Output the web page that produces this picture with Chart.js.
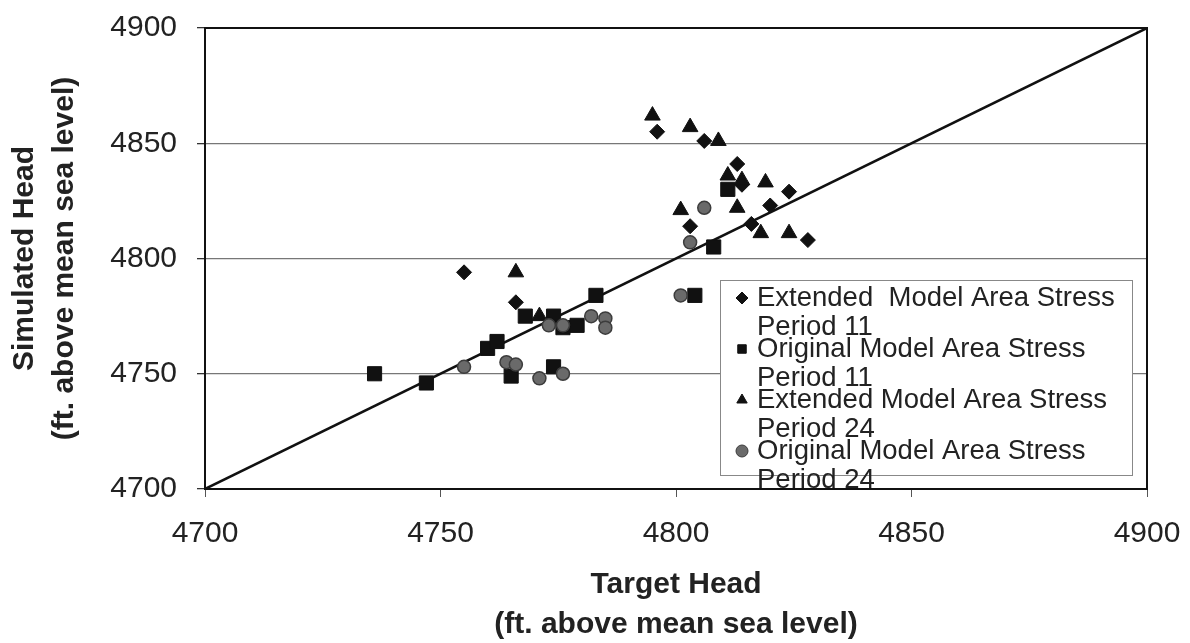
<!DOCTYPE html>
<html lang="en">
<head>
    <meta charset="UTF-8">
    <title>Simulated vs Target Head</title>
    <script src="https://cdn.jsdelivr.net/npm/chart.js"></script>
    <style>
        body { margin: 0; background: #fff; }
        canvas { display: block; }
    </style>
</head>
<body>
    <canvas id="headChart" width="1190" height="643"></canvas>

    <script>
        // axis range and ticks
        const axisMin = 4700;
        const axisMax = 4900;
        const tickStep = 50;

        // series labels (legend text is wrapped onto two lines)
        const seriesLabels = [
            ['Extended  Model Area Stress', 'Period 11'],
            ['Original Model Area Stress', 'Period 11'],
            ['Extended Model Area Stress', 'Period 24'],
            ['Original Model Area Stress', 'Period 24']
        ];

        // target head (x) and simulated head (y)
        const ext11X = [4755, 4766, 4796, 4806, 4813, 4814, 4824, 4820, 4816, 4803, 4828];
        const ext11Y = [4794, 4781, 4855, 4851, 4841, 4832, 4829, 4823, 4815, 4814, 4808];

        const orig11X = [4736, 4747, 4760, 4762, 4768, 4765, 4774, 4776, 4779, 4774, 4783, 4811, 4808, 4804];
        const orig11Y = [4750, 4746, 4761, 4764, 4775, 4749, 4753, 4770, 4771, 4775, 4784, 4830, 4805, 4784];

        const ext24X = [4766, 4771, 4795, 4803, 4809, 4811, 4814, 4819, 4813, 4801, 4818, 4824];
        const ext24Y = [4794, 4775, 4862, 4857, 4851, 4836, 4834, 4833, 4822, 4821, 4811, 4811];

        const orig24X = [4755, 4764, 4766, 4771, 4776, 4773, 4776, 4782, 4785, 4785, 4801, 4806, 4803];
        const orig24Y = [4753, 4755, 4754, 4748, 4750, 4771, 4771, 4775, 4774, 4770, 4784, 4822, 4807];

        const toPoints = (xs, ys) => xs.map((x, i) => ({ x: x, y: ys[i] }));

        const tickFont = { family: 'Liberation Sans, Arial, sans-serif', size: 30 };
        const titleFont = { family: 'Liberation Sans, Arial, sans-serif', size: 30, weight: 'bold', lineHeight: 1.33 };
        const plainTick = (v) => String(v);

        // frame round the plot area + the boxed legend inside it
        const framePlugin = {
            id: 'frame',
            afterDatasetsDraw(chart) {
                const { ctx, chartArea } = chart;
                ctx.save();
                ctx.strokeStyle = '#111';
                ctx.lineWidth = 2;
                ctx.strokeRect(chartArea.left, chartArea.top,
                    chartArea.right - chartArea.left, chartArea.bottom - chartArea.top);
                ctx.restore();
            },
            afterDraw(chart) {
                const { ctx, chartArea } = chart;
                const boxLeft = chartArea.left + 515;
                const boxTop = chartArea.top + 252;
                const boxWidth = 412;
                const boxHeight = 195;
                ctx.save();
                ctx.fillStyle = '#fff';
                ctx.fillRect(boxLeft, boxTop, boxWidth, boxHeight);
                ctx.strokeStyle = '#888';
                ctx.lineWidth = 1;
                ctx.strokeRect(boxLeft + 0.5, boxTop + 0.5, boxWidth, boxHeight);

                ctx.font = '27.5px Liberation Sans, Arial, sans-serif';
                ctx.textBaseline = 'middle';
                ctx.textAlign = 'left';
                const pitch = 51;
                const lineGap = 29;
                for (let i = 0; i < 4; i++) {
                    const ds = chart.data.datasets[i];
                    const y = boxTop + 18 + i * pitch;
                    ctx.fillStyle = ds.backgroundColor;
                    ctx.strokeStyle = ds.borderColor;
                    ctx.lineWidth = 1;
                    Chart.helpers.drawPoint(ctx, { pointStyle: ds.pointStyle, radius: 6, rotation: 0, borderWidth: 1 }, boxLeft + 22, y);
                    ctx.fillStyle = '#222';
                    ctx.fillText(seriesLabels[i][0], boxLeft + 37, y);
                    ctx.fillText(seriesLabels[i][1], boxLeft + 37, y + lineGap);
                }
                ctx.restore();
            }
        };

        // let the layout padding alone decide where the plot area sits
        const noLabelPadding = (scale) => {
            scale.paddingLeft = 0;
            scale.paddingRight = 0;
            scale.paddingTop = 0;
            scale.paddingBottom = 0;
        };

        new Chart(document.getElementById('headChart'), {
            type: 'scatter',
            data: {
                datasets: [
                    {
                        label: seriesLabels[0].join(' '),
                        data: toPoints(ext11X, ext11Y),
                        pointStyle: 'rectRot',
                        pointRadius: 7.5,
                        backgroundColor: '#111',
                        borderColor: '#111',
                        order: 5
                    },
                    {
                        label: seriesLabels[1].join(' '),
                        data: toPoints(orig11X, orig11Y),
                        pointStyle: 'rect',
                        pointRadius: 10,
                        backgroundColor: '#111',
                        borderColor: '#111',
                        order: 4
                    },
                    {
                        label: seriesLabels[2].join(' '),
                        data: toPoints(ext24X, ext24Y),
                        pointStyle: 'triangle',
                        pointRadius: 9,
                        backgroundColor: '#111',
                        borderColor: '#111',
                        order: 3
                    },
                    {
                        label: seriesLabels[3].join(' '),
                        data: toPoints(orig24X, orig24Y),
                        pointStyle: 'circle',
                        pointRadius: 6.5,
                        backgroundColor: '#6a6a6a',
                        borderColor: '#3c3c3c',
                        borderWidth: 1.5,
                        order: 2
                    },
                    {
                        // 1:1 line
                        type: 'line',
                        label: '1:1',
                        data: [{ x: axisMin, y: axisMin }, { x: axisMax, y: axisMax }],
                        borderColor: '#111',
                        borderWidth: 2.5,
                        pointRadius: 0,
                        order: 6
                    }
                ]
            },
            options: {
                responsive: false,
                animation: false,
                layout: { padding: { top: 28, right: 43, left: 0, bottom: 0 } },
                plugins: {
                    legend: { display: false },
                    tooltip: { enabled: false }
                },
                scales: {
                    x: {
                        type: 'linear',
                        min: axisMin,
                        max: axisMax,
                        ticks: { stepSize: tickStep, font: tickFont, color: '#222', padding: 19, maxRotation: 0, callback: plainTick },
                        grid: { drawOnChartArea: false, tickLength: 8, tickColor: '#555' },
                        border: { color: '#111', width: 2 },
                        title: {
                            display: true,
                            text: ['Target Head', '(ft. above mean sea level)'],
                            font: titleFont,
                            color: '#222',
                            padding: { top: 0, bottom: -2 }
                        },
                        afterFit(scale) { scale.height = 154; noLabelPadding(scale); }
                    },
                    y: {
                        type: 'linear',
                        min: axisMin,
                        max: axisMax,
                        ticks: { stepSize: tickStep, font: tickFont, color: '#222', padding: 20, callback: plainTick },
                        grid: { color: '#777', lineWidth: 1.3, tickLength: 8, tickColor: '#333' },
                        border: { color: '#111', width: 2 },
                        title: {
                            display: true,
                            text: ['Simulated Head', '(ft. above mean sea level)'],
                            font: titleFont,
                            color: '#222',
                            padding: { top: 5, bottom: 0 }
                        },
                        afterFit(scale) { scale.width = 205; noLabelPadding(scale); }
                    }
                }
            },
            plugins: [framePlugin]
        });
    </script>
</body>
</html>
